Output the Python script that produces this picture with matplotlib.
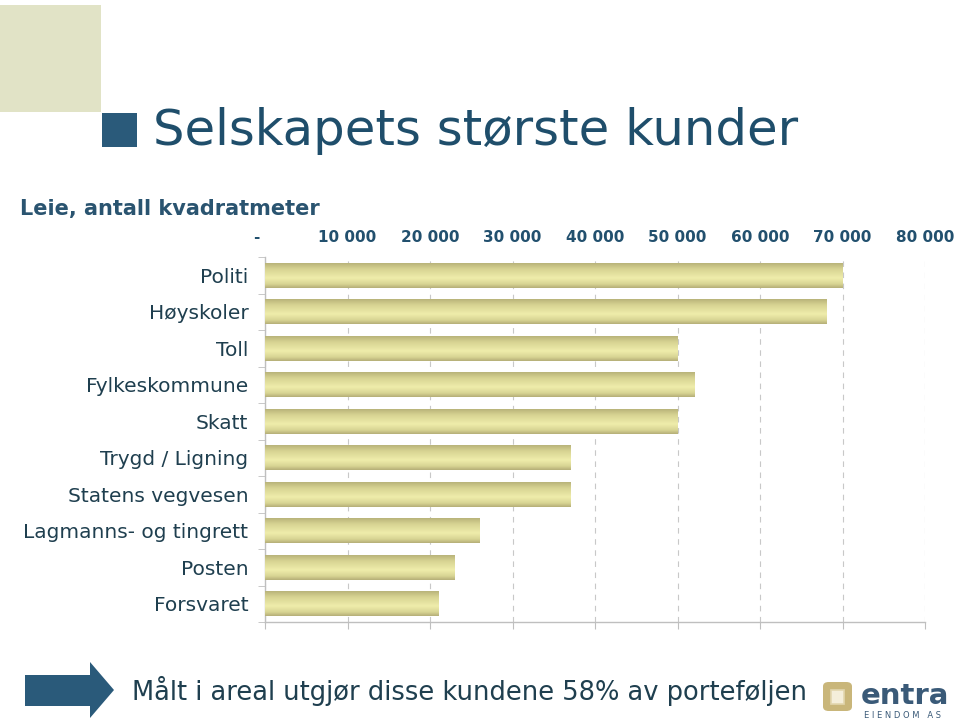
import numpy as np
import matplotlib
matplotlib.use("Agg")
import matplotlib.pyplot as plt
from matplotlib.colors import LinearSegmentedColormap
from matplotlib.patches import Rectangle, Polygon, FancyBboxPatch

# data (square metres)
customers = ["Politi", "Høyskoler", "Toll", "Fylkeskommune", "Skatt",
             "Trygd / Ligning", "Statens vegvesen", "Lagmanns- og tingrett",
             "Posten", "Forsvaret"]
area_m2 = [70000, 68000, 50000, 52000, 50000, 37000, 37000, 26000, 23000, 21000]
x_ticks = [0, 10000, 20000, 30000, 40000, 50000, 60000, 70000, 80000]
x_tick_labels = ["-   ", "10 000", "20 000", "30 000", "40 000",
                 "50 000", "60 000", "70 000", "80 000"]

title = "Selskapets største kunder"
subtitle = "Leie, antall kvadratmeter"
footnote = "Målt i areal utgjør disse kundene 58% av porteføljen"

W, H = 960, 727
fig = plt.figure(figsize=(W / 100, H / 100), dpi=100)


def px(x, y):
    # pixel coords (from top-left) to figure fraction
    return x / W, 1 - y / H


# decoration: pale square, title marker, title
fig.patches.append(Rectangle(px(0, 112), 101 / W, 107 / H, transform=fig.transFigure,
                             facecolor="#E1E3C6", edgecolor="none"))
fig.patches.append(Rectangle(px(102, 147), 35 / W, 34 / H, transform=fig.transFigure,
                             facecolor="#2A5A7A", edgecolor="none"))
fig.text(*px(153, 131), title, fontsize=35.8, color="#1F4E6B", va="center", ha="left")
fig.text(*px(20, 209), subtitle, fontsize=15, fontweight="bold", color="#2A5470",
         va="center", ha="left")

# bar chart
ax = fig.add_axes([265 / W, 1 - 622 / H, 660 / W, 365 / H])
n = len(customers)
ypos = np.arange(n)[::-1]
bar_h = 0.68

grad = LinearSegmentedColormap.from_list(
    "bar", [(0.0, "#B9B37A"), (0.22, "#D6D291"), (0.6, "#EFEDAB"),
            (0.85, "#D8D493"), (1.0, "#B5AF78")])
gimg = grad(np.linspace(0, 1, 64))[:, None, :]

bars = ax.barh(ypos, area_m2, height=bar_h, color="#E0DC9C", edgecolor="none", zorder=2)
for b in bars:
    im = ax.imshow(gimg, extent=(b.get_x(), b.get_x() + b.get_width(),
                                 b.get_y(), b.get_y() + b.get_height()),
                   origin="upper", aspect="auto", zorder=3, interpolation="bilinear")
    im.set_clip_path(b)

ax.set_xlim(0, 80000)
ax.set_ylim(-0.5, n - 0.5)

ax.set_xticks(x_ticks)
ax.set_xticklabels(x_tick_labels)
ax.tick_params(axis="x", which="major", bottom=True, top=False, labelbottom=False,
               labeltop=True, direction="out", length=5, color="#BFBFBF", pad=4,
               labelsize=11, labelcolor="#22506E")
for lab in ax.get_xticklabels():
    lab.set_fontweight("bold")

ax.set_yticks(ypos)
ax.set_yticklabels(customers)
ax.set_yticks(np.arange(n + 1) - 0.5, minor=True)
ax.tick_params(axis="y", which="major", length=0, pad=12, labelsize=14.5,
               labelcolor="#1F3F4F")
ax.tick_params(axis="y", which="minor", length=5, direction="out", color="#BFBFBF")

ax.grid(axis="x", which="major", linestyle=(0, (5, 5)), color="#C8C8C8", linewidth=0.8,
        zorder=0)
ax.set_axisbelow(True)
for side in ["top", "right"]:
    ax.spines[side].set_visible(False)
for side in ["left", "bottom"]:
    ax.spines[side].set_color("#BFBFBF")
    ax.spines[side].set_linewidth(1.0)

# footer arrow
arrow_pts = [(25, 675), (90, 675), (90, 662), (114, 690), (90, 718), (90, 706), (25, 706)]
fig.patches.append(Polygon([px(x, y) for x, y in arrow_pts], closed=True,
                           transform=fig.transFigure, facecolor="#2A5A7A",
                           edgecolor="none"))
fig.text(*px(132, 691), footnote, fontsize=18.5, color="#1F3F4F", va="center", ha="left")

# logo
fig.patches.append(FancyBboxPatch(px(823, 711), 29 / W, 29 / H, transform=fig.transFigure,
                                  boxstyle="round,pad=0,rounding_size=0.006",
                                  facecolor="#C9B67A", edgecolor="none"))
fig.patches.append(Rectangle(px(831, 704), 13 / W, 14 / H, transform=fig.transFigure,
                             facecolor="#F4EEDA", edgecolor="#E2D6AE", linewidth=1.2))
fig.text(*px(861, 704), "entra", fontsize=21, fontweight="bold", color="#3A5A78",
         va="baseline", ha="left")
fig.text(*px(864, 716), "E I E N D O M   A S", fontsize=6, color="#3A5A78",
         va="center", ha="left")

fig.savefig("out.png", dpi=100, facecolor="white")
